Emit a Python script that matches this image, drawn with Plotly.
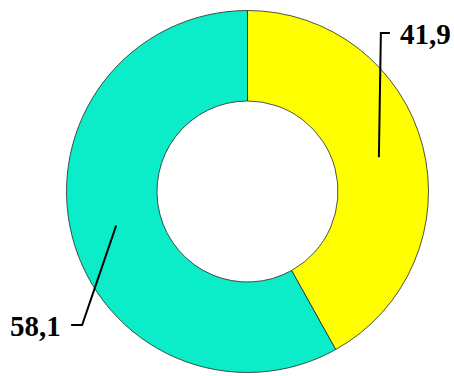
import math
import plotly.graph_objects as go

labels = ["A", "B"]
values = [41.9, 58.1]
label_texts = ["41,9", "58,1"]
colors = ["#FFFF00", "#0AEDC8"]

W, H = 454, 376
cx, cy = 247.5, 191.5   # pixel centre (from top)
R = 181
hole = 0.5

dom_x = [(cx - R) / W, (cx + R) / W]
dom_y = [1 - (cy + R) / H, 1 - (cy - R) / H]

fig = go.Figure(go.Pie(
    labels=labels, values=values, sort=False, direction="clockwise", rotation=0,
    hole=hole, textinfo="none", hoverinfo="label+value",
    marker=dict(colors=colors, line=dict(color="rgba(40,40,40,0.8)", width=1)),
    domain=dict(x=dom_x, y=dom_y), showlegend=False,
))

def px_to_paper(x, y):
    return x / W, 1 - y / H

total = sum(values)
rmid = R * (1 + hole) / 2
cum = 0
shapes = []
annotations = []
for i, v in enumerate(values):
    mid = (cum + v / 2) / total * 2 * math.pi
    cum += v
    sx = cx + rmid * math.sin(mid)
    sy = cy - rmid * math.cos(mid)
    if math.sin(mid) > 0:
        ex, ey = sx + 2, 33
        hx = ex + 9
        tx, anchor = hx + 8, "left"
    else:
        ex, ey = sx - 34, 325
        hx = ex - 11
        tx, anchor = hx - 8, "right"
    pts = [px_to_paper(sx, sy), px_to_paper(ex, ey), px_to_paper(hx, ey)]
    path = "M {} {} L {} {} L {} {}".format(pts[0][0], pts[0][1], pts[1][0], pts[1][1], pts[2][0], pts[2][1])
    shapes.append(dict(type="path", xref="paper", yref="paper", path=path,
                       line=dict(color="black", width=2)))
    ax, ay = px_to_paper(tx, ey + 1)
    annotations.append(dict(x=ax, y=ay, xref="paper", yref="paper", text="<b>" + label_texts[i] + "</b>",
                            showarrow=False, xanchor=anchor, yanchor="middle",
                            font=dict(family="Liberation Serif", size=29, color="black")))

fig.update_layout(
    width=W, height=H, margin=dict(l=0, r=0, t=0, b=0),
    paper_bgcolor="white", plot_bgcolor="white",
    shapes=shapes, annotations=annotations,
)
fig.write_html("out.html", config={"displayModeBar": False},
               post_script="document.body.style.margin='0';document.body.style.overflow='hidden';")
